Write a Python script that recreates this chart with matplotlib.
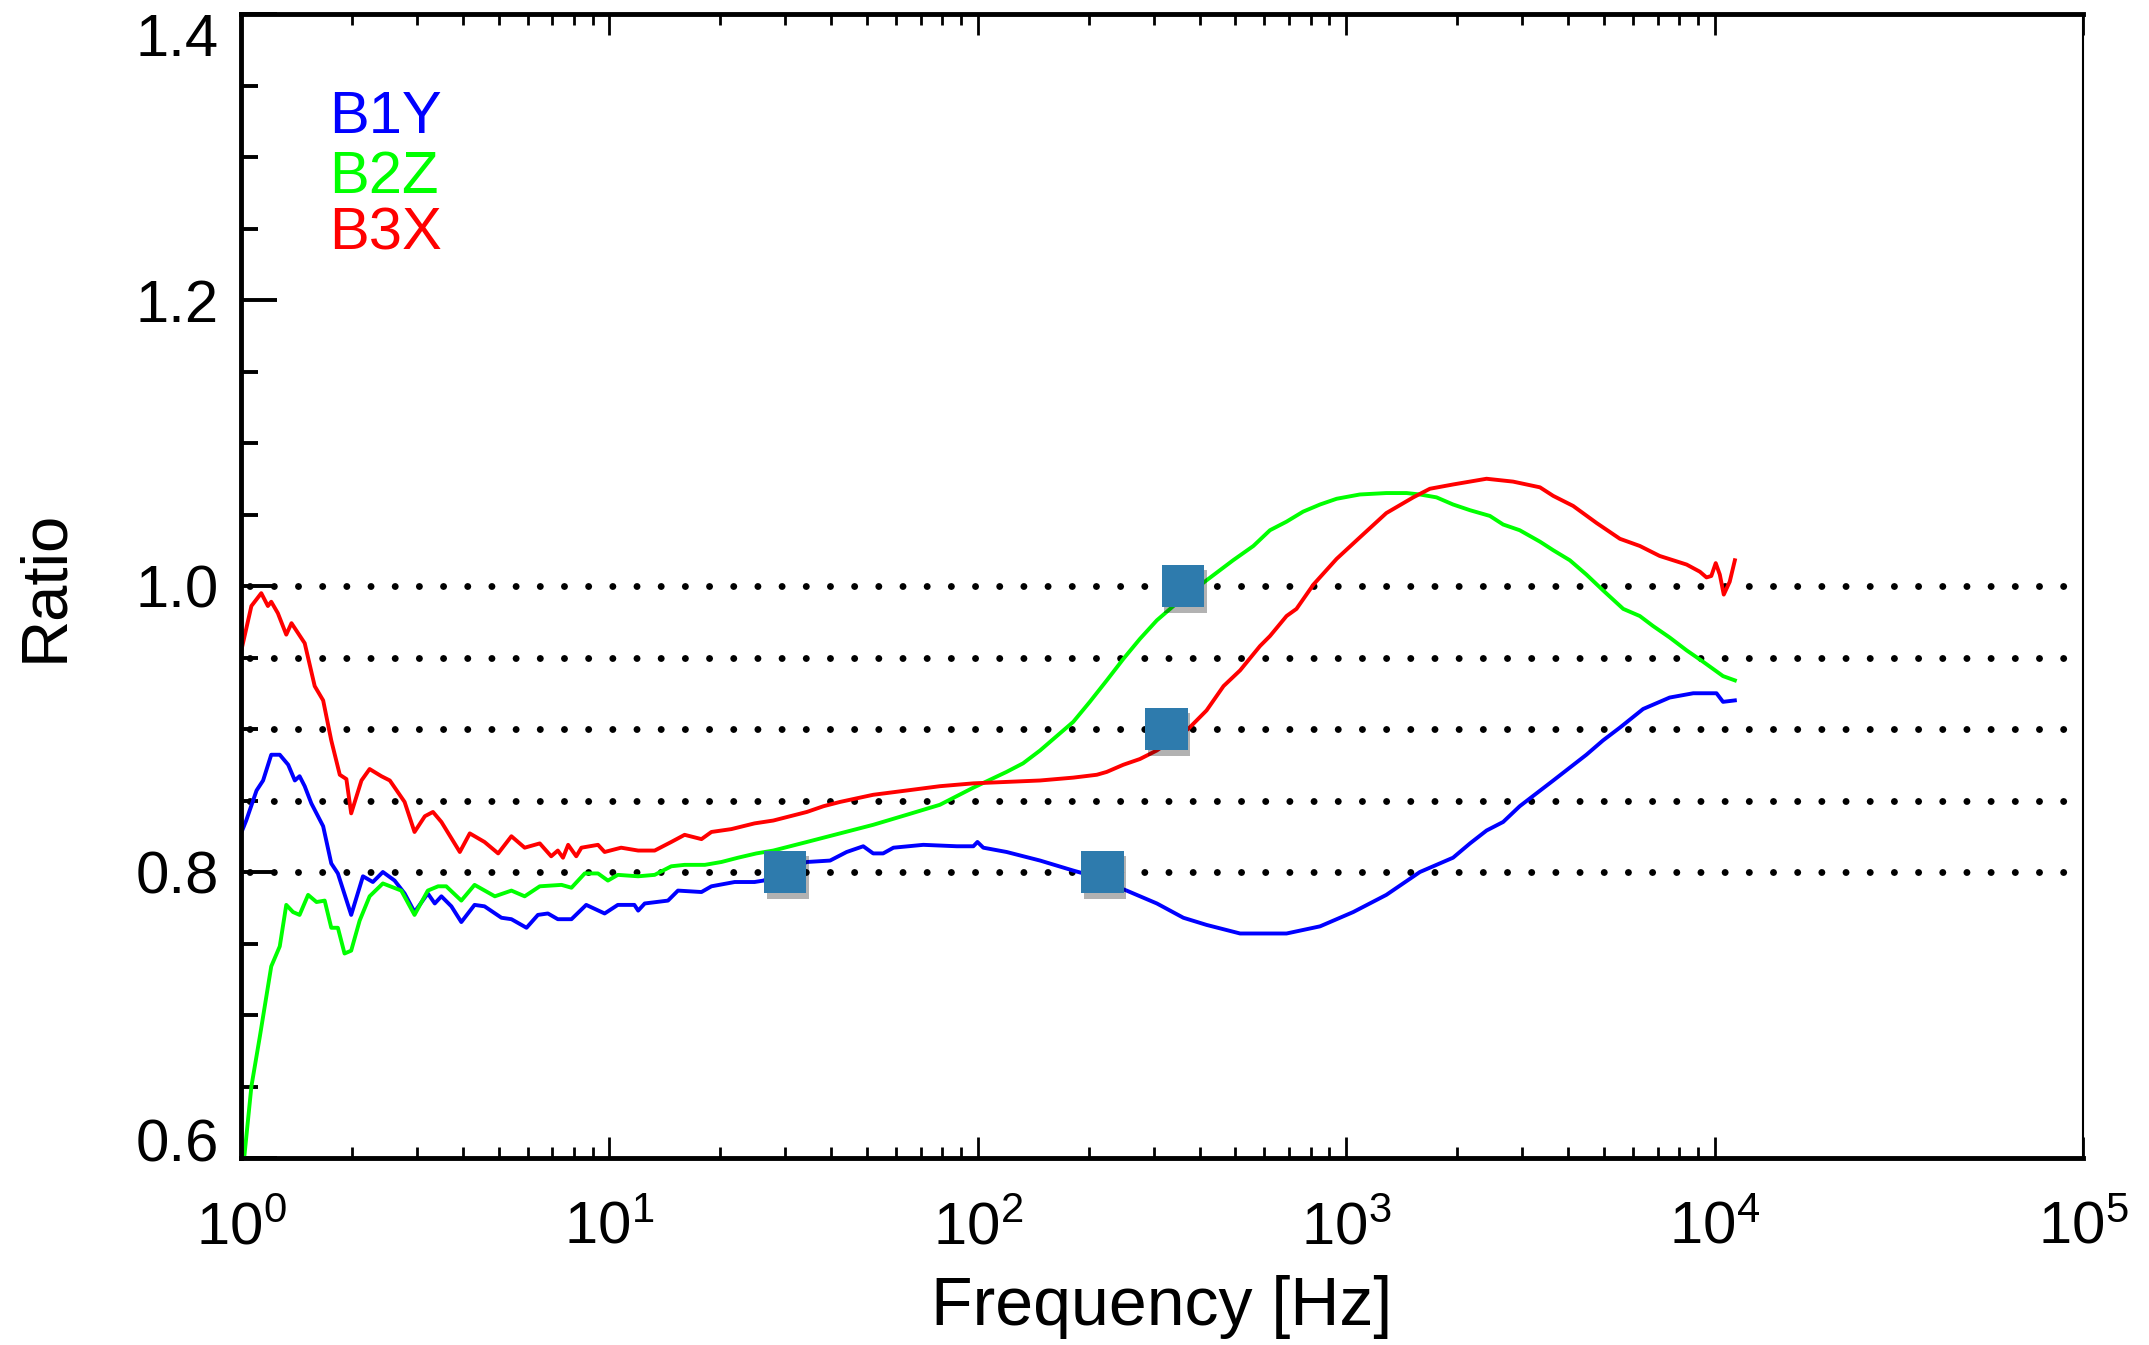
import matplotlib
matplotlib.use("Agg")
import matplotlib.pyplot as plt
import matplotlib.patheffects as pe
import matplotlib.transforms as mtransforms
from matplotlib.ticker import FixedLocator, MultipleLocator

plt.rcParams['font.family'] = ['Liberation Sans', 'DejaVu Sans']
plt.rcParams['mathtext.fontset'] = 'custom'
plt.rcParams['mathtext.rm'] = 'Liberation Sans'
plt.rcParams['mathtext.it'] = 'Liberation Sans:italic'
plt.rcParams['mathtext.bf'] = 'Liberation Sans:bold'
plt.rcParams['lines.scale_dashes'] = False

# B1Y (blue) - frequency [Hz] / ratio
b1y_f = [1.0, 1.033, 1.102, 1.148, 1.208, 1.274, 1.343, 1.400, 1.442, 1.489, 1.552,
         1.671, 1.758, 1.832, 1.991, 2.143, 2.280, 2.427, 2.612, 2.780, 2.958, 3.214,
         3.357, 3.499, 3.724, 3.963, 4.305, 4.581, 5.093, 5.420, 5.957, 6.397, 6.808,
         7.244, 7.889, 8.650, 9.705, 10.54, 11.69, 11.97, 12.47, 14.42, 15.35, 17.78,
         18.92, 21.88, 24.77, 26.18, 34.36, 39.72, 44.06, 48.87, 52.00, 55.34, 59.02,
         71.12, 87.70, 97.27, 99.77, 103.5, 119.7, 147.6, 181.6, 193.6, 253.5, 306.2,
         361.4, 417.8, 515.2, 559.8, 688.7, 849.2, 1045, 1285, 1585, 1950, 2168, 2404,
         2667, 2958, 3648, 4487, 4977, 5534, 6397, 7551, 8750, 10120, 10540, 11350]
b1y_r = [0.827, 0.836, 0.857, 0.864, 0.882, 0.882, 0.875, 0.864, 0.867, 0.860, 0.848,
         0.832, 0.806, 0.799, 0.770, 0.797, 0.793, 0.800, 0.794, 0.785, 0.772, 0.785,
         0.778, 0.783, 0.776, 0.765, 0.777, 0.776, 0.768, 0.767, 0.761, 0.770, 0.771,
         0.767, 0.767, 0.777, 0.771, 0.777, 0.777, 0.773, 0.778, 0.780, 0.787, 0.786,
         0.790, 0.793, 0.793, 0.794, 0.807, 0.808, 0.814, 0.818, 0.813, 0.813, 0.817,
         0.819, 0.818, 0.818, 0.821, 0.817, 0.814, 0.808, 0.801, 0.799, 0.787, 0.778,
         0.768, 0.763, 0.757, 0.757, 0.757, 0.762, 0.772, 0.784, 0.800, 0.810, 0.820, 0.829,
         0.835, 0.846, 0.864, 0.882, 0.892, 0.901, 0.914, 0.922, 0.925, 0.925, 0.919, 0.920]

# B2Z (green)
b2z_f = [1.02, 1.067, 1.125, 1.208, 1.274, 1.327, 1.384, 1.442, 1.521, 1.603, 1.687,
         1.758, 1.832, 1.910, 1.991, 2.099, 2.234, 2.427, 2.723, 2.958, 3.214, 3.428,
         3.606, 3.963, 4.305, 4.887, 5.420, 5.888, 6.471, 7.413, 7.889, 8.570, 9.311,
         9.908, 10.54, 11.97, 13.27, 14.72, 16.00, 18.16, 20.14, 22.34, 25.06, 27.86,
         34.36, 42.27, 52.00, 64.12, 78.89, 97.27, 119.7, 132.7, 147.6, 163.7, 181.6,
         201.4, 223.9, 248.3, 275.4, 306.2, 339.6, 417.8, 493.2, 559.8, 620.9, 688.7,
         763.8, 849.2, 941.9, 1089, 1285, 1459, 1585, 1758, 1950, 2168, 2455, 2667,
         2958, 3357, 3648, 4046, 4487, 4977, 5649, 6266, 6808, 7551, 8395, 9311, 10540, 11350]
b2z_r = [0.600, 0.650, 0.685, 0.734, 0.748, 0.777, 0.772, 0.770, 0.784, 0.779, 0.780,
         0.761, 0.761, 0.743, 0.745, 0.766, 0.783, 0.792, 0.787, 0.770, 0.787, 0.790,
         0.790, 0.780, 0.791, 0.783, 0.787, 0.783, 0.790, 0.791, 0.789, 0.799, 0.799,
         0.794, 0.798, 0.797, 0.798, 0.804, 0.805, 0.805, 0.807, 0.810, 0.813, 0.815,
         0.821, 0.827, 0.833, 0.840, 0.847, 0.859, 0.870, 0.876, 0.885, 0.895, 0.905,
         0.919, 0.934, 0.949, 0.963, 0.976, 0.986, 1.004, 1.018, 1.028, 1.039, 1.045,
         1.052, 1.057, 1.061, 1.064, 1.065, 1.065, 1.064, 1.062, 1.057, 1.053, 1.049, 1.043,
         1.039, 1.031, 1.025, 1.018, 1.008, 0.997, 0.984, 0.979, 0.972, 0.964, 0.955, 0.947,
         0.937, 0.934]

# B3X (red)
b3x_f = [1.0, 1.067, 1.135, 1.183, 1.208, 1.259, 1.327, 1.371, 1.489, 1.585, 1.671,
         1.758, 1.854, 1.932, 1.991, 2.123, 2.234, 2.404, 2.535, 2.780, 2.958, 3.155,
         3.319, 3.499, 3.926, 4.178, 4.581, 4.989, 5.420, 5.888, 6.471, 6.950, 7.244,
         7.482, 7.727, 8.128, 8.395, 9.311, 9.705, 10.76, 11.97, 13.27, 14.72, 16.00,
         17.78, 18.92, 21.43, 24.77, 27.86, 34.36, 38.11, 42.27, 52.00, 64.12, 78.89,
         97.27, 119.7, 147.6, 181.6, 210.4, 223.9, 248.3, 275.4, 306.2, 372.4, 417.8,
         464.5, 515.2, 583.4, 620.9, 688.7, 732.8, 814.7, 941.9, 1089, 1285, 1521, 1687,
         1950, 2404, 2838, 3357, 3648, 4130, 4786, 5534, 6266, 7096, 8395, 9120, 9506,
         9795, 10070, 10330, 10590, 10990, 11350]
b3x_r = [0.954, 0.986, 0.995, 0.986, 0.989, 0.981, 0.966, 0.974, 0.960, 0.930, 0.920,
         0.892, 0.868, 0.865, 0.841, 0.864, 0.872, 0.867, 0.864, 0.849, 0.828, 0.839,
         0.842, 0.835, 0.814, 0.827, 0.821, 0.813, 0.825, 0.817, 0.820, 0.811, 0.815,
         0.810, 0.819, 0.811, 0.817, 0.819, 0.814, 0.817, 0.815, 0.815, 0.821, 0.826,
         0.823, 0.828, 0.830, 0.834, 0.836, 0.842, 0.846, 0.849, 0.854, 0.857, 0.860,
         0.862, 0.863, 0.864, 0.866, 0.868, 0.870, 0.875, 0.879, 0.885, 0.900, 0.913,
         0.930, 0.941, 0.958, 0.965, 0.979, 0.984, 1.001, 1.019, 1.034, 1.051, 1.062, 1.068,
         1.071, 1.075, 1.073, 1.069, 1.063, 1.056, 1.044, 1.033, 1.028, 1.021, 1.015, 1.010,
         1.006, 1.007, 1.016, 1.008, 0.994, 1.003, 1.018]

# reference levels and marked points
ref_levels = [0.80, 0.85, 0.90, 0.95, 1.00]
mark_f = [30, 218, 325, 360]
mark_r = [0.80, 0.80, 0.90, 1.00]

series = [("B1Y", b1y_f, b1y_r, "#0000ff"),
          ("B2Z", b2z_f, b2z_r, "#00ff00"),
          ("B3X", b3x_f, b3x_r, "#ff0000")]

fig = plt.figure(figsize=(21.49, 13.45), dpi=100)
ax = fig.add_axes([0.11215, 0.13903, 0.85714, 0.85056])

# dotted reference lines: round dots ~7 px wide every ~24 px
for lev in ref_levels:
    ax.axhline(lev, color="black", lw=5.0, linestyle=(11.2, (0.01, 17.4)),
               dash_capstyle="round", zorder=1)

for name, f, r, c in series:
    ax.plot(f, r, color=c, lw=2.8, zorder=2)

ax.plot(mark_f, mark_r, linestyle="none", marker="s", markersize=30.5,
        color="#2e7bad", markeredgewidth=0, zorder=4,
        path_effects=[pe.SimplePatchShadow(offset=(2, -4), shadow_rgbFace="black", alpha=0.3),
                      pe.Normal()])

# color labels in the upper left
for i, (name, f, r, c) in enumerate(series):
    ax.text(0.048, [0.896, 0.8435, 0.794][i], name, color=c, fontsize=43,
            transform=ax.transAxes, va="baseline", ha="left")

ax.set_xscale("log")
ax.set_xlim(1, 1e5)
ax.set_ylim(0.6, 1.4)

ax.xaxis.set_major_locator(FixedLocator([1, 10, 100, 1e3, 1e4, 1e5]))
ax.xaxis.set_minor_locator(FixedLocator([m * 10 ** k for k in range(4) for m in range(2, 10)]))
ax.yaxis.set_major_locator(FixedLocator([0.6, 0.8, 1.0, 1.2, 1.4]))
ax.yaxis.set_minor_locator(MultipleLocator(0.05))
ax.yaxis.set_major_formatter(plt.FormatStrFormatter("%.1f"))

ax.tick_params(axis="both", which="both", direction="in", right=False, top=True)
ax.tick_params(axis="y", which="major", length=26, width=2.8, labelsize=43, pad=16)
ax.tick_params(axis="y", which="minor", length=12, width=2.8)
ax.tick_params(axis="x", which="major", length=15, width=2.0, labelsize=43, pad=31)
ax.tick_params(axis="x", which="minor", length=8, width=2.0)

for s in ["left", "top", "bottom"]:
    ax.spines[s].set_linewidth(3.5)
ax.spines["right"].set_linewidth(1.5)

ax.set_xlabel("Frequency [Hz]", fontsize=49)
ax.set_ylabel("Ratio", fontsize=47)
ax.xaxis.set_label_coords(0.5, -0.102)
ax.yaxis.set_label_coords(-0.09, 0.5)

# end labels pulled inside the frame, as in the original
fig.canvas.draw()
for tick in ax.yaxis.get_major_ticks():
    lab = tick.label1
    if lab.get_text() == "1.4":
        lab.set_transform(lab.get_transform() + mtransforms.ScaledTranslation(0, -0.20, fig.dpi_scale_trans))
    elif lab.get_text() == "0.6":
        lab.set_transform(lab.get_transform() + mtransforms.ScaledTranslation(0, 0.18, fig.dpi_scale_trans))

fig.savefig("out.png", dpi=100)
